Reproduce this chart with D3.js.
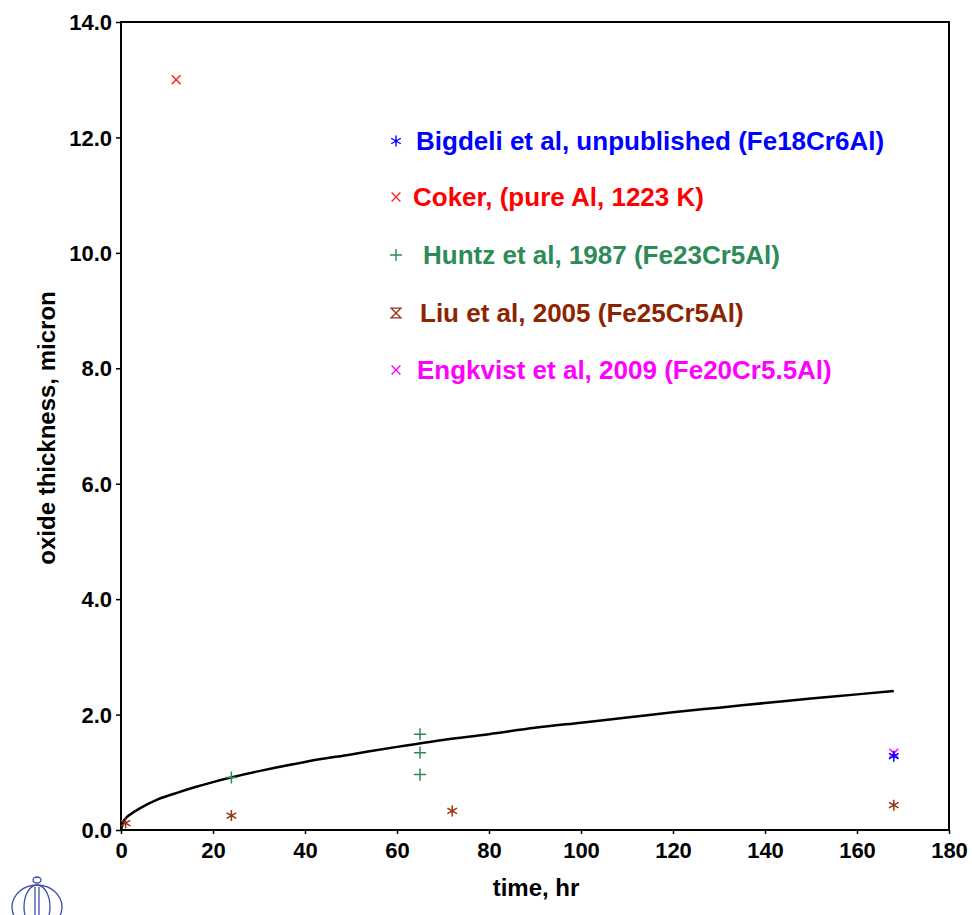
<!DOCTYPE html>
<html><head><meta charset="utf-8">
<script src="https://cdn.jsdelivr.net/npm/d3@7"></script>
<style>body{margin:0;background:#fff}svg{display:block}text{font-family:"Liberation Sans",Arial,sans-serif;font-weight:bold}</style>
</head><body><svg id="c" width="972" height="915"></svg>
<script>
// data
const xTicks = [0,20,40,60,80,100,120,140,160,180];
const yTicks = [0,2,4,6,8,10,12,14];
const curveT = [0,0.5,1,2,4,8,12,16,20,30,40,50,60,70,80,90,100,110,120,130,140,150,160,168];
const curveY = [0,0.14,0.2,0.27,0.37,0.53,0.64,0.74,0.83,1.02,1.18,1.31,1.44,1.56,1.66,1.77,1.86,1.95,2.04,2.12,2.20,2.28,2.35,2.41];
const seriesNames = ["Bigdeli et al, unpublished (Fe18Cr6Al)","Coker, (pure Al, 1223 K)","Huntz et al, 1987 (Fe23Cr5Al)","Liu et al, 2005 (Fe25Cr5Al)","Engkvist et al, 2009 (Fe20Cr5.5Al)"];
const seriesColors = ["#0000ff","#ff2a2a","#2e8b57","#993311","#ff00ff"];
const textColors = ["#0000ff","#ff0000","#2e8b57","#8b2500","#ff00ff"];
const bigdeliT = [168], bigdeliY = [1.28];
const cokerT = [12], cokerY = [13.0];
const huntzT = [24,65,65,65], huntzY = [0.91,1.66,1.34,0.96];
const liuT = [1,24,72,168], liuY = [0.12,0.25,0.33,0.43];
const engkvistT = [168], engkvistY = [1.33];

const svg = d3.select("#c");
const L=121, R=949, T=22, B=830;
const x = d3.scaleLinear().domain([0,180]).range([L,R]);
const y = d3.scaleLinear().domain([0,14]).range([B,T]);

// frame
svg.append("rect").attr("x",L).attr("y",T).attr("width",R-L).attr("height",B-T)
  .attr("fill","none").attr("stroke","#000").attr("stroke-width",2);

const xa = svg.append("g").attr("transform",`translate(0,${B})`)
  .call(d3.axisBottom(x).tickValues(xTicks).tickFormat(d3.format("d")).tickSize(4).tickPadding(8));
const ya = svg.append("g").attr("transform",`translate(${L},0)`)
  .call(d3.axisLeft(y).tickValues(yTicks).tickFormat(d3.format(".1f")).tickSize(5).tickPadding(4));
[xa,ya].forEach(g=>{
  g.select(".domain").remove();
  g.selectAll("line").attr("stroke","#000").attr("stroke-width",1.5);
  g.selectAll("text").attr("font-size",22).attr("fill","#000")
   .style("font-family","'Liberation Sans',Arial,sans-serif").style("font-weight","bold");
});
ya.selectAll("text").attr("dy","0.35em");

svg.append("text").attr("x",536).attr("y",896).attr("text-anchor","middle")
  .attr("font-size",24).text("time, hr");
svg.append("text").attr("transform","translate(55,428) rotate(-90)").attr("text-anchor","middle")
  .attr("font-size",24).text("oxide thickness, micron");

// curve
const line = d3.line().x(d=>x(d[0])).y(d=>y(d[1])).curve(d3.curveMonotoneX);
svg.append("path").datum(curveT.map((t,i)=>[t,curveY[i]]))
  .attr("d",line).attr("fill","none").attr("stroke","#000").attr("stroke-width",2.5);

// marker paths
const s=5.5;
const markers = {
  asterisk: `M0,${-s}V${s}M${-s*0.87},${-s*0.5}L${s*0.87},${s*0.5}M${-s*0.87},${s*0.5}L${s*0.87},${-s*0.5}`,
  cross: `M${-s*0.8},${-s*0.8}L${s*0.8},${s*0.8}M${-s*0.8},${s*0.8}L${s*0.8},${-s*0.8}`,
  plus: `M0,${-s*1.1}V${s*1.1}M${-s*1.1},0H${s*1.1}`,
  hourglass: `M${-s},${-s}H${s}L${-s},${s}H${s}Z`
};
function plot(ts,vs,path,color){
  svg.append("g").selectAll("path").data(ts.map((t,i)=>[t,vs[i]])).join("path")
    .attr("transform",d=>`translate(${x(d[0])},${y(d[1])})`)
    .attr("d",path).attr("fill","none").attr("stroke",color).attr("stroke-width",1.5);
}
plot(huntzT,huntzY,markers.plus,seriesColors[2]);
plot(liuT,liuY,markers.asterisk,seriesColors[3]);
plot(cokerT,cokerY,markers.cross,seriesColors[1]);
plot(engkvistT,engkvistY,markers.cross,seriesColors[4]);
plot(bigdeliT,bigdeliY,markers.asterisk,seriesColors[0]);

// legend
const legMarkers=[markers.asterisk,markers.cross,markers.plus,markers.hourglass,markers.cross];
const legY=[141,197,255,313,370];
const legTextX=[416,413,423,420,417];
seriesNames.forEach((n,i)=>{
  svg.append("path").attr("d",legMarkers[i])
    .attr("fill","none").attr("stroke",seriesColors[i]).attr("stroke-width",1.4)
    .attr("transform",`translate(396,${legY[i]}) scale(${i==3?0.9:1})`);
  svg.append("text").attr("x",legTextX[i]).attr("y",legY[i]).attr("dy","0.36em")
    .attr("font-size",26).attr("fill",textColors[i]).text(n);
});

// logo
const lg = svg.append("g").attr("transform","translate(37,907)").attr("fill","none").attr("stroke","#3b4fa8").attr("stroke-width",1.3);
lg.append("ellipse").attr("rx",25).attr("ry",22);
lg.append("ellipse").attr("rx",13).attr("ry",22);
lg.append("line").attr("x1",-2).attr("x2",-2).attr("y1",-20).attr("y2",22);
lg.append("line").attr("x1",2).attr("x2",2).attr("y1",-20).attr("y2",22);
lg.append("ellipse").attr("cx",0).attr("cy",-27).attr("rx",4).attr("ry",3);
</script></body></html>
